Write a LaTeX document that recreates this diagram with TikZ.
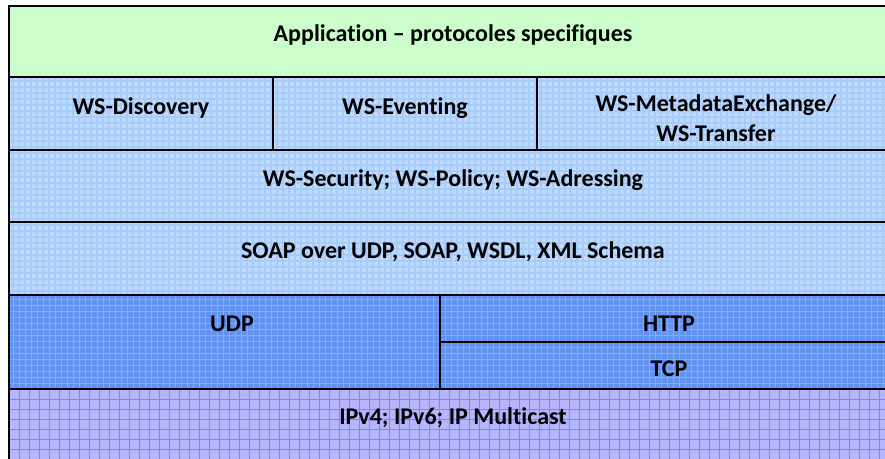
\documentclass[tikz,border=0pt]{standalone}
\usepackage{fontspec}
\setmainfont{Carlito}[Ligatures={NoCommon}]
\definecolor{appgreen}{RGB}{204,255,204}
\definecolor{wsblue}{RGB}{190,218,255}
\definecolor{wsline}{RGB}{168,204,250}
\definecolor{netblue}{RGB}{96,146,242}
\definecolor{netline}{RGB}{128,170,250}
\definecolor{ipviolet}{RGB}{182,182,255}
\definecolor{ipline}{RGB}{132,132,236}
\begin{document}
\begin{tikzpicture}[x=0.75pt, y=-0.75pt]
	\tikzset{
		cell/.style={draw=black, line width=1.6pt},
		txt/.style={font=\bfseries\fontsize{18}{22.5}\selectfont, anchor=base, align=center, inner sep=0pt},
	}
	\useasboundingbox (0,0) rectangle (885,459);
	\clip (0,0) rectangle (885,459);

	% 1. Fonds des couches
	\fill[appgreen] (9,6) rectangle (896,77);
	\fill[wsblue] (9,77) rectangle (896,295);
	\fill[netblue] (9,295) rectangle (896,389);
	\fill[ipviolet] (9,389) rectangle (896,470);

	% 2. Trame
	\foreach \x in {13,19,...,895} \draw[wsline, line width=0.8pt] (\x,77) -- (\x,295);
	\foreach \y in {81,87,...,293} \draw[wsline, line width=0.8pt] (9,\y) -- (896,\y);
	\foreach \x in {13,19,...,895} \draw[netline, line width=0.6pt] (\x,295) -- (\x,389);
	\foreach \y in {299,305,...,387} \draw[netline, line width=0.6pt] (9,\y) -- (896,\y);
	\foreach \x in {19,29,...,889} \draw[ipline, line width=0.6pt] (\x,389) -- (\x,470);
	\foreach \y in {399,409,...,459} \draw[ipline, line width=0.6pt] (9,\y) -- (896,\y);

	% 3. Cadres
	\draw[cell] (9,6) rectangle (896,77);
	\draw[cell] (9,77) rectangle (273,150);
	\draw[cell] (273,77) rectangle (537,150);
	\draw[cell] (537,77) rectangle (896,150);
	\draw[cell] (9,150) rectangle (896,222);
	\draw[cell] (9,222) rectangle (896,295);
	\draw[cell] (9,295) rectangle (440,389);
	\draw[cell] (440,295) rectangle (896,342);
	\draw[cell] (440,342) rectangle (896,389);
	\draw[cell] (9,389) -- (9,470);

	% 4. Textes
	\node[txt] (app) at (453,42) {Application -- protocoles specifiques};
	\node[txt] (disc) at (141,115) {WS-Discovery};
	\node[txt] (event) at (405,115) {WS-Eventing};
	\node[txt] (meta) at (716,142) {WS-MetadataExchange/\\WS-Transfer};
	\node[txt] (sec) at (453,187) {WS-Security; WS-Policy; WS-Adressing};
	\node[txt] (soap) at (453,259) {SOAP over UDP, SOAP, WSDL, XML Schema};
	\node[txt] (udp) at (232,332) {UDP};
	\node[txt] (http) at (669,332) {HTTP};
	\node[txt] (tcp) at (669,377) {TCP};
	\node[txt] (ip) at (453,425) {IPv4; IPv6; IP Multicast};

\end{tikzpicture}
\end{document}
